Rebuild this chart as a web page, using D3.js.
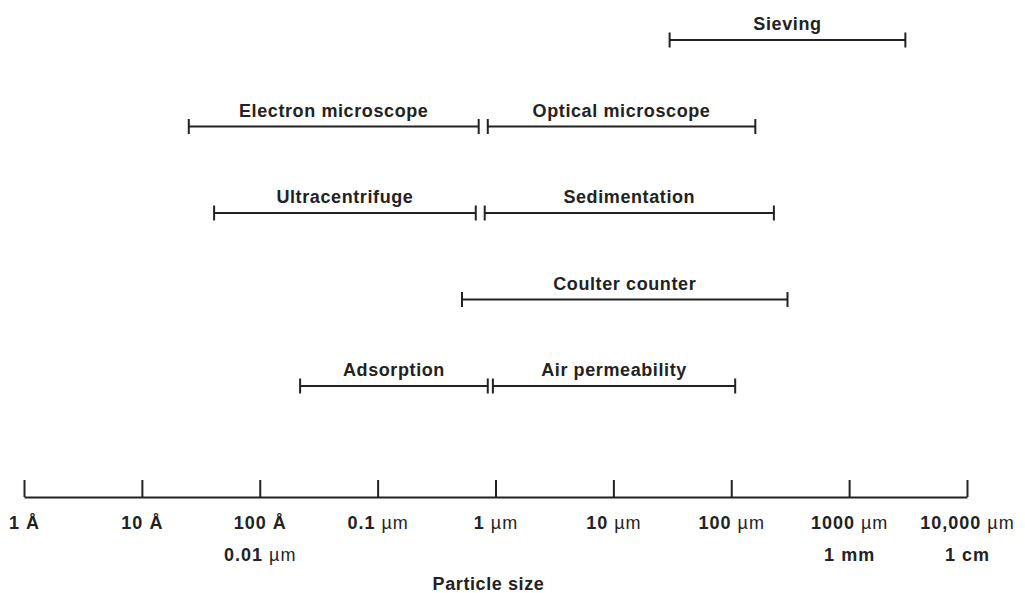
<!DOCTYPE html>
<html>
<head>
<meta charset="utf-8">
<script src="https://cdn.jsdelivr.net/npm/d3@7"></script>
<style>
  html, body { margin: 0; padding: 0; background: #ffffff; }
  svg { display: block; }
</style>
</head>
<body>
<svg id="chart" width="1025" height="593"></svg>
<script>
// ---------- data ----------
const methods   = ["Sieving", "Electron microscope", "Optical microscope", "Ultracentrifuge",
                   "Sedimentation", "Coulter counter", "Adsorption", "Air permeability"];
const sizeMinUm = [30,   0.0025, 0.86, 0.0041, 0.81, 0.52, 0.022, 0.95];   // µm
const sizeMaxUm = [3000, 0.72,   160,  0.68,   230,  300,  0.86,  108];    // µm
const methodRow = [0, 1, 1, 2, 2, 3, 4, 4];
const rows      = [0, 1, 2, 3, 4];

const tickValues    = [1e-4, 1e-3, 1e-2, 1e-1, 1, 10, 100, 1000, 10000];  // µm
const tickNumbers   = ["1 ", "10 ", "100 ", "0.1 ", "1 ", "10 ", "100 ", "1000 ", "10,000 "];
const tickUnits     = ["Å", "Å", "Å", "µm", "µm", "µm", "µm", "µm", "µm"];
const tickSubLabels = ["", "", "0.01 µm", "", "", "", "", "1 mm", "1 cm"];
const axisTitle     = "Particle size";

// ---------- layout ----------
const svg = d3.select("#chart");
const ink = "#222";
const font = "'Liberation Sans', Arial, sans-serif";
const axisY = 497;

const x = d3.scaleLog().domain([1e-4, 1e4]).range([24, 967]);
const y = d3.scalePoint().domain(rows).range([40, 386]);

// ---------- bars ----------
const data = methods.map((m, i) => ({ name: m, lo: sizeMinUm[i], hi: sizeMaxUm[i], row: methodRow[i] }));
const g = svg.append("g").attr("stroke", ink).attr("stroke-width", 2).attr("fill", "none");
const bar = g.selectAll("g.bar").data(data).join("g").attr("class", "bar");
bar.append("line")
  .attr("x1", d => x(d.lo)).attr("x2", d => x(d.hi))
  .attr("y1", d => y(d.row)).attr("y2", d => y(d.row));
bar.append("line")
  .attr("x1", d => x(d.lo)).attr("x2", d => x(d.lo))
  .attr("y1", d => y(d.row) - 7.5).attr("y2", d => y(d.row) + 7.5);
bar.append("line")
  .attr("x1", d => x(d.hi)).attr("x2", d => x(d.hi))
  .attr("y1", d => y(d.row) - 7.5).attr("y2", d => y(d.row) + 7.5);

svg.append("g").selectAll("text").data(data).join("text")
  .attr("x", d => (x(d.lo) + x(d.hi)) / 2)
  .attr("y", d => y(d.row) - 10)
  .attr("text-anchor", "middle")
  .attr("font-family", font).attr("font-weight", "bold")
  .attr("font-size", 18).attr("letter-spacing", 0.6)
  .attr("fill", ink)
  .text(d => d.name);

// ---------- axis ----------
const axis = d3.axisBottom(x)
  .tickValues(tickValues)
  .tickSizeInner(-17)
  .tickSizeOuter(0)
  .tickPadding(19)
  .tickFormat(() => "");

const ax = svg.append("g").attr("transform", `translate(0,${axisY})`).call(axis);
ax.select(".domain").attr("stroke", ink).attr("stroke-width", 2);
ax.selectAll(".tick line").attr("stroke", ink).attr("stroke-width", 2);
ax.selectAll(".tick text").each(function(d, i) {
  const t = d3.select(this)
    .attr("font-family", font).attr("font-size", 18)
    .attr("letter-spacing", 1).attr("fill", ink);
  t.append("tspan").attr("font-weight", "bold").text(tickNumbers[i]);
  t.append("tspan").attr("font-weight", tickUnits[i] === "Å" ? "bold" : "normal").text(tickUnits[i]);
});
ax.selectAll(".tick").each(function(d, i) {
  if (!tickSubLabels[i]) return;
  const parts = tickSubLabels[i].split(" ");
  const t = d3.select(this).append("text")
    .attr("y", 64).attr("text-anchor", "middle")
    .attr("font-family", font).attr("font-size", 18)
    .attr("letter-spacing", 1).attr("fill", ink);
  t.append("tspan").attr("font-weight", "bold").text(parts[0] + " ");
  t.append("tspan").attr("font-weight", parts[1] === "µm" ? "normal" : "bold").text(parts[1]);
});

svg.append("text")
  .attr("x", x(1) - 7).attr("y", 590)
  .attr("text-anchor", "middle")
  .attr("font-family", font).attr("font-weight", "bold")
  .attr("font-size", 18).attr("letter-spacing", 0.6)
  .attr("fill", ink)
  .text(axisTitle);
</script>
</body>
</html>
